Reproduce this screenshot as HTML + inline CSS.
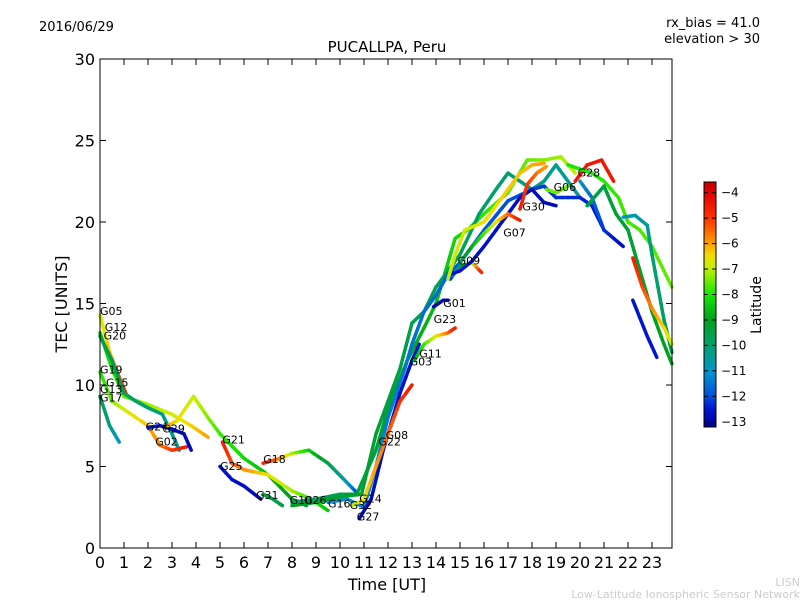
<!DOCTYPE html>
<html><head><meta charset="utf-8">
<style>
body{margin:0;background:#fff;}
svg{display:block;font-family:"DejaVu Sans","Liberation Sans",sans-serif;}
</style></head>
<body>
<svg id="chart" width="800" height="600" viewBox="0 0 800 600" xmlns="http://www.w3.org/2000/svg">
<rect width="800" height="600" fill="#fff"/>
<g id="marks"></g>
<g id="labels"></g>
<rect x="100" y="59" width="572" height="489" fill="none" stroke="#000" stroke-width="1"/>
<g id="axes"></g>
<text x="39" y="31" font-size="13">2016/06/29</text>
<text x="760" y="27" font-size="13" text-anchor="end">rx_bias = 41.0</text>
<text x="760" y="43" font-size="13" text-anchor="end">elevation &gt; 30</text>
<text x="387" y="52" font-size="15" text-anchor="middle">PUCALLPA, Peru</text>
<text x="387" y="590" font-size="16" text-anchor="middle">Time [UT]</text>
<text transform="translate(67,304) rotate(-90)" font-size="16" text-anchor="middle">TEC [UNITS]</text>
<defs><linearGradient id="cbg" x1="0" y1="1" x2="0" y2="0"></linearGradient></defs>
<rect x="704" y="182" width="12" height="245" fill="url(#cbg)" stroke="#000" stroke-width="1"/>
<g id="cbticks"></g>
<text transform="translate(761,305) rotate(-90)" font-size="14" text-anchor="middle">Latitude</text>
<text x="800" y="586" font-size="11" fill="#ccc" text-anchor="end">LISN</text>
<text x="800" y="598" font-size="11" fill="#ccc" text-anchor="end">Low-Latitude Ionospheric Sensor Network</text>
</svg>
<script>
const xTicks=[0,1,2,3,4,5,6,7,8,9,10,11,12,13,14,15,16,17,18,19,20,21,22,23];
const yTicks=[0,5,10,15,20,25,30];
const cbTicks=[-4,-5,-6,-7,-8,-9,-10,-11,-12,-13];
// tracks: time (h), TEC, start/end latitude
const trackTimes=[
[0,0.4,0.8,1.1],
[0,0.5,1,2,3,3.8,4.5],
[0,0.5,1,1.5,2,2.6,3,3.3],
[0,0.5,1,2,2.5,3,3.6],
[0,0.4,0.8],
[2,2.5,3,3.5,3.8],
[2.8,3.2,3.9,4.5,5,6,7,8,8.6],
[5.1,5.5,6,7,8,8.8,9.5],
[6.8,7.5,8,8.7,9.5,10.3,10.7],
[5,5.5,6,6.7],
[6.8,7.2,7.6],
[8,9,10,10.7,11.5,12,12.8,13.5,14,14.5,14.8,15.3,16,17,17.8,18.5,19.2,19.8],
[8,9,10.3,10.9,11.5,12,12.5,13,13.5,14,15,15.8,16.5,17,17.5,18,18.5,19,19.5,20],
[9.5,10.3,11,11.5,12,12.7,13,13.5,14,14.5,15,16,17,18,18.5,19,20,20.5,21],
[10.8,11.3,11.8,12.5,13,13.3],
[10.5,11,11.5,12,12.5,13],
[13.1,13.5,14,14.5,14.8],
[13.9,14.3,14.5],
[14.6,15,15.5,15.9],
[14.6,15,15.5,16,16.5,17,17.5,18,18.5,19],
[15,15.5,16,16.5,17,17.5],
[14.5,14.8,15.2,16,16.5,17,17.5,18,18.5],
[17.5,17.8,18.2,18.6],
[18.6,19,19.5],
[19.8,20.3,20.9,21.4],
[20,20.5,21,21.8],
[19.5,20.5,21,21.6,22,22.5,23,23.5,23.83],
[20.3,21,21.5,22,22.5,23,23.5,23.83],
[21.8,22.3,22.8,23,23.5,23.83],
[22.2,22.6,23,23.5,23.83],
[22.2,22.8,23.2]
];
const trackTec=[
[14.3,12,10.5,9.4],
[13.2,11,9.3,8.8,8.2,7.5,6.8],
[13,11.5,9.5,9,8.6,8.2,7,6],
[10.8,9,8.5,7.5,6.3,6,6.2],
[9.3,7.5,6.5],
[7.4,7.5,7.3,7,6],
[7.5,7.8,9.3,8,7,5.5,4.5,3,2.6],
[6.5,5.2,4.8,4.5,3.5,3,2.3],
[5.2,5.5,5.8,6,5.2,4,3.4],
[5,4.2,3.8,3],
[3.3,3,2.6],
[2.8,3,3.3,3.3,6,8.5,11.5,13.5,15,17.5,19,19.5,20.5,21.8,23.8,23.8,24,23],
[2.6,2.8,3.2,3.3,7,9,11,13.8,14.5,16,18,20.5,22,23,22.5,22,22.5,23.5,22.5,21.5],
[2.8,3,2.5,5,8,11,12.5,14.5,15.5,16.8,17.5,19.5,21.3,22,22.2,21.5,21.5,21,19.5],
[1.8,3,6,9.5,11.5,12.5],
[2.6,3,5,7,9,10],
[11.5,12.5,13,13.2,13.5],
[14.8,15.2,15.2],
[16.5,17.3,17.5,16.9],
[16.8,17,17.6,18.5,19.5,20.5,21.5,22,21.2,21],
[17.5,18.5,19.3,20,20.5,20.1],
[16.5,18,19.5,20,21,22,23,23.5,23.6],
[20.8,22.3,23,23.4],
[22,21.8,22.2],
[22.5,23.5,23.8,22.5],
[22.5,21.5,19.5,18.5],
[23.5,23,22.5,21.5,20,19.5,18.5,17,16],
[21,22.2,20.5,19.5,17,14.5,12.5,11.3],
[20.3,20.4,19.8,18,14,12],
[17.8,16,14.7,13.5,12.5],
[15.2,13,11.7]
];
const trackLatStart=[-7,-8.5,-9.5,-8,-9.5,-12.5,-6,-4.5,-4.5,-12.5,-9.5,-10,-9,-11,-12.8,-7,-9,-12.8,-12.5,-12.5,-10,-7,-4.5,-7.5,-4.5,-11,-8,-9.5,-11,-4.5,-12.5];
const trackLatEnd=[-4.5,-6,-10.5,-4.5,-11,-12.8,-9.5,-8.5,-12,-12.8,-9.5,-7,-10.5,-12.5,-12.5,-4.5,-4.5,-12.8,-4.5,-12.8,-4.5,-6,-6,-7.5,-4.5,-12.8,-7.5,-9,-9.5,-7,-12.5];
const satNames=["G05","G12","G20","G19","G15","G13","G17","G24","G29","G02","G21","G25","G18","G31","G10","G26","G16","G32","G14","G27","G08","G22","G03","G11","G23","G01","G09","G07","G30","G06","G28"];
const satTimes=[0,0.2,0.15,0,0.25,0,0,1.9,2.6,2.3,5.1,5,6.8,6.5,7.9,8.5,9.5,10.4,10.8,10.7,11.9,11.6,12.9,13.3,13.9,14.3,14.9,16.8,17.6,18.9,19.9];
const satTec=[14.3,13.3,12.8,10.7,9.9,9.5,9.0,7.2,7.1,6.3,6.4,4.8,5.2,3.0,2.7,2.7,2.5,2.4,2.8,1.7,6.7,6.3,11.2,11.7,13.8,14.8,17.4,19.1,20.7,21.9,22.8];

const X0=100,XS=24,Y0=548,YS=16.3;
function xs(t){return X0+t*XS;}
function ys(v){return Y0-v*YS;}
const NS="http://www.w3.org/2000/svg";
const stops=[[-13.2,[0,0,140]],[-12.5,[0,20,210]],[-12,[0,80,220]],[-11,[0,150,200]],[-10,[0,160,110]],[-9,[0,160,30]],[-8,[20,230,0]],[-7,[190,240,0]],[-6.5,[240,225,0]],[-6,[255,160,0]],[-5,[255,50,0]],[-4,[225,0,0]],[-3.5,[190,0,0]]];
function cmap(l){
  if(l<=stops[0][0])return "rgb("+stops[0][1]+")";
  for(let i=1;i<stops.length;i++){
    if(l<=stops[i][0]){const a=stops[i-1],b=stops[i];const f=(l-a[0])/(b[0]-a[0]);
      const c=a[1].map((v,k)=>Math.round(v+(b[1][k]-v)*f));return "rgb("+c+")";}
  }
  return "rgb("+stops[stops.length-1][1]+")";
}
const marks=document.getElementById('marks');
for(let i=0;i<trackTimes.length;i++){
  const T=trackTimes[i],V=trackTec[i],n=T.length;
  const g=document.createElementNS(NS,'g');
  
  
  for(let j=0;j<n-1;j++){
    const sub=4;
    for(let s=0;s<sub;s++){
      const f0=(j+s/sub)/(n-1),f1=(j+(s+1)/sub)/(n-1);
      const t0=T[j]+(T[j+1]-T[j])*s/sub,t1=T[j]+(T[j+1]-T[j])*(s+1)/sub;
      const v0=V[j]+(V[j+1]-V[j])*s/sub,v1=V[j]+(V[j+1]-V[j])*(s+1)/sub;
      const lat=trackLatStart[i]+(trackLatEnd[i]-trackLatStart[i])*(f0+f1)/2;
      const ln=document.createElementNS(NS,'line');
      ln.setAttribute('x1',xs(t0));ln.setAttribute('y1',ys(v0));
      ln.setAttribute('x2',xs(t1));ln.setAttribute('y2',ys(v1));
      ln.setAttribute('stroke',cmap(lat));ln.setAttribute('stroke-width','3.5');ln.setAttribute('stroke-linecap','round');
      g.appendChild(ln);
    }
  }
  marks.appendChild(g);
}
const labels=document.getElementById('labels');
for(let i=0;i<satNames.length;i++){
  const tx=document.createElementNS(NS,'text');
  
  
  tx.setAttribute('x',xs(satTimes[i]));tx.setAttribute('y',ys(satTec[i]));
  tx.setAttribute('font-size','11');tx.textContent=satNames[i];
  labels.appendChild(tx);
}
const axes=document.getElementById('axes');
function add(tag,attrs,text){const e=document.createElementNS(NS,tag);for(const k in attrs)e.setAttribute(k,attrs[k]);if(text!==undefined)e.textContent=text;axes.appendChild(e);return e;}
xTicks.forEach(t=>{
  const x=xs(t);
  const a=add('line',{x1:x,y1:548,x2:x,y2:542,stroke:'#000'});
  
  const b=add('line',{x1:x,y1:59,x2:x,y2:65,stroke:'#000'});
  
  const l=add('text',{x:x,y:568,'font-size':'16','text-anchor':'middle'},String(t));
  
});
yTicks.forEach(v=>{
  const y=ys(v);
  const a=add('line',{x1:100,y1:y,x2:106,y2:y,stroke:'#000'});
  
  const b=add('line',{x1:672,y1:y,x2:666,y2:y,stroke:'#000'});
  
  const l=add('text',{x:95,y:y+6,'font-size':'16','text-anchor':'end'},String(v));
  
});
const grad=document.getElementById('cbg');
for(let k=0;k<=40;k++){
  const l=-13.2+(9.62*k/40);
  const st=document.createElementNS(NS,'stop');
  st.setAttribute('offset',(k/40*100)+'%');st.setAttribute('stop-color',cmap(l));
  grad.appendChild(st);
}
const cbt=document.getElementById('cbticks');
cbTicks.forEach(v=>{
  const y=192.7+(-4-v)*25.45;
  const ln=document.createElementNS(NS,'line');
  
  
  ln.setAttribute('x1',704);ln.setAttribute('x2',708);ln.setAttribute('y1',y);ln.setAttribute('y2',y);ln.setAttribute('stroke','#000');
  cbt.appendChild(ln);
  const ln2=document.createElementNS(NS,'line');
  
  
  ln2.setAttribute('x1',712);ln2.setAttribute('x2',716);ln2.setAttribute('y1',y);ln2.setAttribute('y2',y);ln2.setAttribute('stroke','#000');
  cbt.appendChild(ln2);
  const tx=document.createElementNS(NS,'text');
  
  
  tx.setAttribute('x',721);tx.setAttribute('y',y+4);tx.setAttribute('font-size','12');
  tx.textContent='\u2212'+Math.abs(v);
  cbt.appendChild(tx);
});
</script>
</body></html>
